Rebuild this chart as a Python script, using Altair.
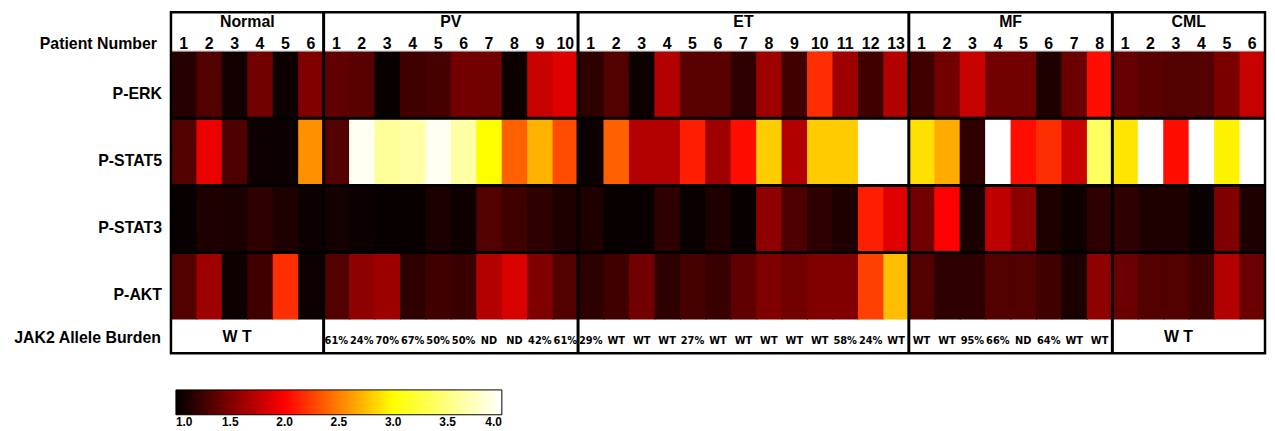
import altair as alt
import pandas as pd

# ---------------- data ----------------
groups = ["Normal", "PV", "ET", "MF", "CML"]
group_sizes = [6, 10, 13, 8, 6]
proteins = ["P-ERK", "P-STAT5", "P-STAT3", "P-AKT"]

p_erk = [1.15, 1.32, 1.07, 1.45, 1.05, 1.50,
         1.38, 1.35, 1.03, 1.25, 1.28, 1.45, 1.45, 1.05, 1.78, 1.88,
         1.18, 1.32, 1.05, 1.70, 1.35, 1.35, 1.18, 1.62, 1.25, 2.18, 1.62, 1.25, 1.70,
         1.25, 1.45, 1.78, 1.45, 1.45, 1.12, 1.42, 2.05,
         1.40, 1.35, 1.32, 1.32, 1.48, 1.78]
p_stat5 = [1.32, 1.92, 1.30, 1.05, 1.05, 2.57,
           1.32, 3.95, 3.60, 3.65, 3.95, 3.65, 3.00, 2.38, 2.70, 2.30,
           1.05, 2.38, 1.70, 1.70, 2.12, 1.62, 2.05, 2.80, 1.70, 2.80, 2.80, 4.00, 4.00,
           2.88, 2.67, 1.18, 4.00, 2.05, 2.18, 1.78, 3.38,
           2.90, 4.00, 2.05, 4.00, 2.95, 4.00]
p_stat3 = [1.03, 1.12, 1.10, 1.18, 1.12, 1.05,
           1.08, 1.05, 1.03, 1.03, 1.10, 1.06, 1.32, 1.25, 1.18, 1.12,
           1.12, 1.03, 1.03, 1.18, 1.04, 1.12, 1.03, 1.56, 1.30, 1.18, 1.12, 2.12, 1.88,
           1.45, 2.00, 1.10, 1.75, 1.55, 1.12, 1.06, 1.18,
           1.18, 1.12, 1.12, 1.04, 1.50, 1.12]
p_akt = [1.32, 1.62, 1.06, 1.25, 2.18, 1.05,
         1.32, 1.56, 1.62, 1.18, 1.25, 1.22, 1.70, 1.85, 1.50, 1.32,
         1.18, 1.25, 1.45, 1.18, 1.28, 1.22, 1.38, 1.50, 1.45, 1.50, 1.50, 2.25, 2.75,
         1.32, 1.18, 1.18, 1.32, 1.32, 1.25, 1.10, 1.56,
         1.42, 1.32, 1.32, 1.25, 1.70, 1.42]

jak2_pv = ["61%", "24%", "70%", "67%", "50%", "50%", "ND", "ND", "42%", "61%"]
jak2_et = ["29%", "WT", "WT", "WT", "27%", "WT", "WT", "WT", "WT", "WT", "58%", "24%", "WT"]
jak2_mf = ["WT", "WT", "95%", "66%", "ND", "64%", "WT", "WT"]
jak2_group_text = {"Normal": "W T", "CML": "W T"}

colorbar_ticks = [1.0, 1.5, 2.0, 2.5, 3.0, 3.5, 4.0]

# ---------------- layout units ----------------
HEAD = 0.58          # header band height (row units)
JAK_H = 0.5          # JAK2 row height (row units)
Y_MAX = HEAD + len(proteins) + JAK_H
N_COL = sum(group_sizes)
OVERLAP = 0.04       # tiny overlap so adjacent cells leave no seam

starts = []
s = 0
for n in group_sizes:
    starts.append(s)
    s += n

FONT = "Liberation Sans, Arial, sans-serif"
NARROW = "DejaVu Sans Condensed, Liberation Sans Narrow, Arial Narrow, sans-serif"

# heatmap cells
cells = []
for r, vals in enumerate([p_erk, p_stat5, p_stat3, p_akt]):
    for c, v in enumerate(vals):
        cells.append(dict(x0=c, x1=min(c + 1 + OVERLAP, N_COL),
                          y0=HEAD + r, y1=HEAD + r + 1, value=v))
cells = pd.DataFrame(cells)

# header texts
grp_df = pd.DataFrame(dict(label=groups,
                           xc=[st + n / 2 for st, n in zip(starts, group_sizes)],
                           y=[0.15] * len(groups)))
num_rows = []
for st, n in zip(starts, group_sizes):
    for i in range(n):
        num_rows.append(dict(label=str(i + 1), xc=st + i + 0.5, y=0.47))
num_df = pd.DataFrame(num_rows)

# row labels
row_df = pd.DataFrame(dict(label=proteins,
                           y=[HEAD + r + 0.64 for r in range(len(proteins))]))

# JAK2 texts
jak_rows = []
for g, st, n in zip(groups, starts, group_sizes):
    if g in jak2_group_text:
        jak_rows.append(dict(label=jak2_group_text[g], xc=st + n / 2 - 0.4,
                             y=HEAD + 4 + JAK_H * 0.52, kind="group"))
per = {"PV": jak2_pv, "ET": jak2_et, "MF": jak2_mf}
for g, st in zip(groups, starts):
    if g in per:
        for i, t in enumerate(per[g]):
            jak_rows.append(dict(label=t, xc=st + i + 0.5,
                                 y=HEAD + 4 + JAK_H * 0.63, kind="cell"))
jak_df = pd.DataFrame(jak_rows)

# separator lines
bounds = starts[1:]
vsep = pd.DataFrame(dict(x=bounds, y=[0.0] * len(bounds), y2=[Y_MAX] * len(bounds)))
hsep = pd.DataFrame(dict(y=[HEAD + 1, HEAD + 2, HEAD + 3],
                         x=[0] * 3, x2=[N_COL] * 3))
border = pd.DataFrame(dict(x=[0], x2=[N_COL], y=[0.0], y2=[Y_MAX]))
thin = pd.DataFrame(dict(y=[HEAD], x=[0], x2=[N_COL]))

xs = alt.Scale(domain=[0, N_COL], nice=False, zero=False)
ys = alt.Scale(domain=[0, Y_MAX], nice=False, zero=False, reverse=True)
hot = alt.Scale(domain=[1, 2, 3, 4],
                range=["#000000", "#ff0000", "#ffff00", "#ffffff"],
                clamp=True, interpolate="rgb")

heat = alt.Chart(cells).mark_rect(strokeWidth=0).encode(
    x=alt.X("x0:Q", scale=xs, axis=None),
    x2="x1:Q",
    y=alt.Y("y0:Q", scale=ys, axis=None),
    y2="y1:Q",
    color=alt.Color(
        "value:Q",
        scale=hot,
        legend=alt.Legend(orient="none", direction="horizontal",
                          legendX=5, legendY=380,
                          gradientLength=328, gradientThickness=25,
                          title=None, values=colorbar_ticks, format=".1f",
                          labelFont=FONT, labelFontSize=12,
                          labelFontWeight="bold", labelColor="black",
                          gradientStrokeColor="black", gradientStrokeWidth=1,
                          padding=0, labelOffset=2),
    ),
)

grp_text = alt.Chart(grp_df).mark_text(font=FONT, fontSize=16, fontWeight="bold",
                                       baseline="middle", color="black").encode(
    x="xc:Q", y="y:Q", text="label:N")
num_text = alt.Chart(num_df).mark_text(font=FONT, fontSize=16, fontWeight="bold",
                                       baseline="middle", color="black").encode(
    x="xc:Q", y="y:Q", text="label:N")
row_text = alt.Chart(row_df).mark_text(font=FONT, fontSize=16, fontWeight="bold",
                                       baseline="middle", align="right",
                                       color="black").encode(
    x=alt.value(-9), y="y:Q", text="label:N")
pn_text = alt.Chart(pd.DataFrame(dict(label=["Patient Number"], y=[0.47]))).mark_text(
    font=FONT, fontSize=16, fontWeight="bold", baseline="middle", align="right",
    color="black").encode(x=alt.value(-14), y="y:Q", text="label:N")
jl_text = alt.Chart(pd.DataFrame(dict(label=["JAK2 Allele Burden"],
                                      y=[HEAD + 4 + JAK_H * 0.55]))).mark_text(
    font=FONT, fontSize=16, fontWeight="bold", baseline="middle", align="right",
    color="black").encode(x=alt.value(-10), y="y:Q", text="label:N")

jak_grp = alt.Chart(jak_df[jak_df.kind == "group"]).mark_text(
    font=FONT, fontSize=16, fontWeight="bold", baseline="middle",
    color="black").encode(x="xc:Q", y="y:Q", text="label:N")
jak_cell = alt.Chart(jak_df[jak_df.kind == "cell"]).mark_text(
    font=NARROW, fontSize=11, fontWeight="bold", baseline="middle",
    color="black").encode(x="xc:Q", y="y:Q", text="label:N")

thin_line = alt.Chart(thin).mark_rule(color="#9a9a9a", strokeWidth=1).encode(
    x="x:Q", x2="x2:Q", y="y:Q")
vlines = alt.Chart(vsep).mark_rule(color="black", strokeWidth=3).encode(
    x="x:Q", y="y:Q", y2="y2:Q")
hlines = alt.Chart(hsep).mark_rule(color="black", strokeWidth=3).encode(
    x="x:Q", x2="x2:Q", y="y:Q")
box = alt.Chart(border).mark_rect(filled=False, stroke="black", strokeWidth=2.5).encode(
    x="x:Q", x2="x2:Q", y="y:Q", y2="y2:Q")

chart = alt.layer(
    heat, thin_line, hlines, vlines, box,
    grp_text, num_text, row_text, pn_text, jl_text, jak_grp, jak_cell,
).properties(
    width=1101, height=343,
    autosize=alt.AutoSizeParams(type="none"),
    padding={"left": 164, "top": 3, "right": 2, "bottom": 77},
    background="white",
).configure_view(stroke=None)

chart.save("out.html", embed_options={"renderer": "svg", "actions": False})
